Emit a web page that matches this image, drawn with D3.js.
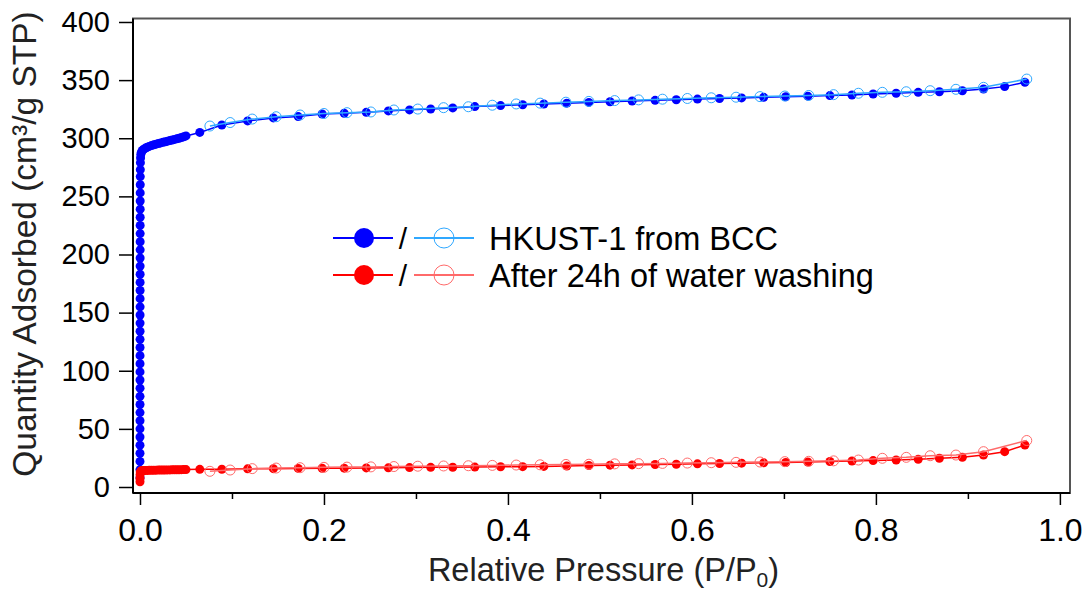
<!DOCTYPE html>
<html>
<head>
<meta charset="utf-8">
<script src="https://cdn.jsdelivr.net/npm/d3@7"></script>
<style>
  html, body { margin: 0; padding: 0; background: #fff; }
  svg { display: block; font-family: "Liberation Sans", Arial, sans-serif; }
</style>
</head>
<body>
<svg id="chart" width="1089" height="592"></svg>
<script>
// N2 isotherms at 77 K: adsorption (filled) and desorption (open) branches

const blueAdsP = [
  0.000001, 0.000002, 0.000003, 0.000005, 0.000007, 0.00001, 0.000013, 0.000016, 0.00002, 0.000024,
  0.000028, 0.000033, 0.000038, 0.000044, 0.00005, 0.000057, 0.000064, 0.000072, 0.00008, 0.00009,
  0.0001, 0.00011, 0.00012, 0.00013, 0.00014, 0.00015, 0.00016, 0.00017, 0.00018, 0.00019,
  0.0002, 0.00021, 0.00022, 0.00023, 0.00024, 0.00025, 0.00027, 0.0003, 0.00035, 0.00045, 0.0006, 0.0009,
  0.0015, 0.0025, 0.004, 0.006, 0.008, 0.010, 0.0125, 0.015, 0.0175, 0.020, 0.0225,
  0.025, 0.0275, 0.030, 0.0325, 0.035, 0.0375, 0.040, 0.0425, 0.045, 0.0475, 0.050,
  0.065, 0.089, 0.117, 0.145, 0.172, 0.198, 0.222, 0.246, 0.270, 0.293,
  0.316, 0.340, 0.364, 0.392, 0.416, 0.439, 0.464, 0.488, 0.511, 0.535,
  0.560, 0.583, 0.606, 0.630, 0.654, 0.678, 0.702, 0.726, 0.750, 0.774,
  0.797, 0.822, 0.846, 0.869, 0.894, 0.917, 0.940, 0.962
];
const blueAdsQ = [
  8, 15, 22, 29, 36, 43, 50, 57, 64, 71,
  78, 85, 92, 99, 106, 113, 120, 127, 134, 141,
  148, 155, 162, 169, 176, 183, 190, 197, 204, 211,
  218, 225, 232, 239, 246, 253, 260, 267, 273, 279, 283, 286,
  288.0, 289.5, 290.5, 291.5, 292.3, 293.0, 293.7, 294.3, 294.9, 295.5, 296.0,
  296.5, 297.0, 297.5, 298.0, 298.5, 299.0, 299.5, 300.0, 300.6, 301.2, 302.0,
  305.0, 311.4, 314.9, 317.5, 318.6, 320.9, 321.5, 322.3, 323.5, 324.4,
  325.2, 326.1, 327.2, 328.1, 328.8, 329.5, 330.2, 330.8, 331.4, 332.0,
  332.6, 333.1, 333.7, 334.2, 334.7, 335.2, 335.7, 336.2, 336.7, 337.2,
  338.1, 338.7, 339.5, 340.0, 340.9, 342.4, 344.4, 348.1
];

const redAdsP = [
  0.000005, 0.00003, 0.0001, 0.0003,
  0.0015, 0.0025, 0.004, 0.006, 0.008, 0.010, 0.0125, 0.015, 0.0175, 0.020, 0.0225,
  0.025, 0.0275, 0.030, 0.0325, 0.035, 0.0375, 0.040, 0.0425, 0.045, 0.0475, 0.050,
  0.065, 0.089, 0.117, 0.145, 0.172, 0.198, 0.222, 0.246, 0.270, 0.293,
  0.316, 0.340, 0.364, 0.392, 0.416, 0.439, 0.464, 0.488, 0.511, 0.535,
  0.560, 0.583, 0.606, 0.630, 0.654, 0.678, 0.702, 0.726, 0.750, 0.774,
  0.797, 0.822, 0.846, 0.869, 0.894, 0.917, 0.940, 0.962
];
const redAdsQ = [
  4.5, 7.5, 10.5, 13.0,
  14.0, 14.1, 14.2, 14.25, 14.3, 14.35, 14.4, 14.45, 14.5, 14.55, 14.6,
  14.62, 14.65, 14.7, 14.72, 14.75, 14.8, 14.85, 14.88, 14.9, 14.95, 15.0,
  15.2, 15.3, 15.6, 15.8, 16.0, 16.1, 16.2, 16.4, 16.5, 16.7,
  16.9, 17.0, 17.1, 17.4, 17.5, 17.7, 18.1, 18.5, 18.8, 19.0,
  19.4, 19.6, 19.9, 20.2, 20.5, 20.8, 21.1, 21.5, 21.9, 22.4,
  22.7, 23.2, 23.8, 24.7, 25.5, 27.5, 30.4, 36.1
];

const desP = [
  0.076, 0.098, 0.122, 0.148, 0.174, 0.200, 0.225, 0.251, 0.276, 0.302,
  0.330, 0.357, 0.383, 0.409, 0.435, 0.463, 0.488, 0.516, 0.542, 0.568,
  0.595, 0.621, 0.648, 0.674, 0.701, 0.727, 0.754, 0.781, 0.807, 0.833,
  0.859, 0.887, 0.917, 0.964
];
const blueDesQ = [
  310.5, 313.5, 316.5, 318.5, 320.0, 321.3, 322.0, 322.6, 324.3, 325.1,
  326.3, 327.1, 328.4, 329.5, 330.2, 331.0, 331.7, 332.4, 333.0, 333.6,
  334.2, 334.8, 335.3, 335.8, 336.3, 336.8, 337.5, 338.7, 339.5, 340.0,
  340.9, 342.1, 343.8, 350.9
];
const redDesQ = [
  13.5, 14.6, 15.8, 16.3, 16.6, 16.9, 17.1, 17.3, 17.6, 17.9,
  18.1, 18.3, 18.6, 18.9, 19.1, 19.4, 19.6, 19.9, 20.1, 20.3,
  20.6, 20.9, 21.2, 21.5, 21.8, 22.1, 22.5, 23.2, 24.7, 25.5,
  26.9, 27.5, 30.4, 40.0
];

const xMajorTicks = [0, 0.2, 0.4, 0.6, 0.8, 1.0];
const xMinorTicks = [0.1, 0.3, 0.5, 0.7, 0.9];
const yTicks = [0, 50, 100, 150, 200, 250, 300, 350, 400];
const legendLabels = ["HKUST-1 from BCC", "After 24h of water washing"];

const colors = {
  blue: "#0000ff",
  lightBlue: "#2fa8ff",
  red: "#ff0000",
  lightRed: "#ff6a6a"
};

const svg = d3.select("#chart");
const plotLeft = 133, plotRight = 1070, plotTop = 18.5, plotBottom = 493;

const x = d3.scaleLinear().domain([-0.0076, 1.011]).range([plotLeft, plotRight]);
const y = d3.scaleLinear().domain([-5.16, 403]).range([plotBottom, plotTop]);

// plot frame
svg.append("rect")
  .attr("x", plotLeft).attr("y", plotTop)
  .attr("width", plotRight - plotLeft).attr("height", plotBottom - plotTop)
  .attr("fill", "none").attr("stroke", "#555").attr("stroke-width", 2);

// series
function series(P, Q, color, filled, r) {
  const pts = P.map((p, i) => [p, Q[i]]);
  const g = svg.append("g");
  g.append("path")
    .datum(pts)
    .attr("fill", "none")
    .attr("stroke", color)
    .attr("stroke-width", 1.5)
    .attr("d", d3.line().x(d => x(d[0])).y(d => y(d[1])));
  g.selectAll("circle").data(pts).join("circle")
    .attr("cx", d => x(d[0])).attr("cy", d => y(d[1]))
    .attr("r", r)
    .attr("fill", filled ? color : "none")
    .attr("stroke", color)
    .attr("stroke-width", filled ? 0 : 1);
}

series(blueAdsP, blueAdsQ, colors.blue, true, 4.5);
series(desP, blueDesQ, colors.lightBlue, false, 5);
series(redAdsP, redAdsQ, colors.red, true, 4.5);
series(desP, redDesQ, colors.lightRed, false, 5);

// axes
const yAxis = d3.axisLeft(y).tickValues(yTicks).tickSize(14).tickPadding(9).tickSizeOuter(0)
  .tickFormat(d3.format("d"));
const gy = svg.append("g").attr("transform", `translate(${plotLeft},0)`).call(yAxis);
gy.select(".domain").attr("stroke", "#000").attr("stroke-width", 2)
  .attr("d", `M0,${plotTop}V${plotBottom}`);
gy.selectAll(".tick line").attr("stroke", "#000").attr("stroke-width", 1.5);
gy.selectAll(".tick text").attr("font-size", 29).attr("fill", "#000")
  .attr("font-family", "Liberation Sans, Arial, sans-serif");

const xAxis = d3.axisBottom(x).tickValues(xMajorTicks).tickSize(12).tickPadding(13).tickSizeOuter(0)
  .tickFormat(d3.format(".1f"));
const gx = svg.append("g").attr("transform", `translate(0,${plotBottom})`).call(xAxis);
gx.select(".domain").attr("stroke", "#000").attr("stroke-width", 2)
  .attr("d", `M${plotLeft},0H${plotRight}`);
gx.selectAll(".tick line").attr("stroke", "#000").attr("stroke-width", 1.5);
gx.selectAll(".tick text").attr("font-size", 32).attr("fill", "#000")
  .attr("font-family", "Liberation Sans, Arial, sans-serif");

const xMinor = d3.axisBottom(x).tickValues(xMinorTicks).tickSize(6).tickFormat("").tickSizeOuter(0);
const gxm = svg.append("g").attr("transform", `translate(0,${plotBottom})`).call(xMinor);
gxm.select(".domain").remove();
gxm.selectAll(".tick line").attr("stroke", "#000").attr("stroke-width", 1.5);

// axis titles
const xTitle = svg.append("text")
  .attr("x", (plotLeft + plotRight) / 2 + 2).attr("y", 581)
  .attr("text-anchor", "middle").attr("font-size", 32.5).attr("fill", "#222");
xTitle.append("tspan").text("Relative Pressure (P/P");
xTitle.append("tspan").attr("font-size", 21).attr("dy", 6).text("0");
xTitle.append("tspan").attr("dy", -6).text(")");

svg.append("text")
  .attr("transform", "translate(36,244) rotate(-90)")
  .attr("text-anchor", "middle").attr("font-size", 33.5).attr("fill", "#222")
  .text("Quantity Adsorbed (cm³/g STP)");

// legend
const legendRows = [
  { y: 238, fill: colors.blue, open: colors.lightBlue, label: legendLabels[0] },
  { y: 275, fill: colors.red, open: colors.lightRed, label: legendLabels[1] }
];
const lg = svg.append("g");
legendRows.forEach(row => {
  lg.append("line").attr("x1", 333).attr("x2", 393).attr("y1", row.y).attr("y2", row.y)
    .attr("stroke", row.fill).attr("stroke-width", 2);
  lg.append("circle").attr("cx", 364).attr("cy", row.y).attr("r", 10).attr("fill", row.fill);
  lg.append("text").attr("x", 403).attr("y", row.y + 11).attr("text-anchor", "middle")
    .attr("font-size", 30).attr("fill", "#000").text("/");
  lg.append("line").attr("x1", 414).attr("x2", 474).attr("y1", row.y).attr("y2", row.y)
    .attr("stroke", row.open).attr("stroke-width", 2);
  lg.append("circle").attr("cx", 444).attr("cy", row.y).attr("r", 10)
    .attr("fill", "none").attr("stroke", row.open).attr("stroke-width", 1);
  lg.append("text").attr("x", 489).attr("y", row.y + 11.5)
    .attr("font-size", 32.5).attr("fill", "#000").text(row.label);
});
</script>
</body>
</html>
